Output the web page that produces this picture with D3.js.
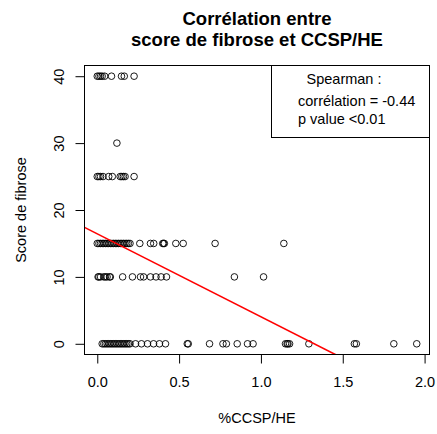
<!DOCTYPE html>
<html><head><meta charset="utf-8">
<script src="https://cdn.jsdelivr.net/npm/d3@7"></script>
<style>
body{margin:0;background:#fff}
text{font-family:"Liberation Sans",Arial,Helvetica,sans-serif;fill:#000}
</style>
</head><body>
<svg id="chart" width="437" height="434"></svg>
<script>
// ---- data ----
const titleLines = ["Corrélation entre", "score de fibrose et CCSP/HE"];
const xLabel = "%CCSP/HE";
const yLabel = "Score de fibrose";
const xTicks = [0, 0.5, 1, 1.5, 2];
const yTicks = [0, 10, 20, 30, 40];
const xDomain = [-0.078, 2.03];
const yDomain = [-1.6, 41.6];

const fibroseLevels = [40, 30, 25, 15, 10, 0];
const ccsp40 = [0.0, 0.01, 0.02, 0.03, 0.045, 0.087, 0.148, 0.165, 0.225];
const ccsp30 = [0.12];
const ccsp25 = [0.0, 0.01, 0.02, 0.035, 0.07, 0.092, 0.14, 0.15, 0.16, 0.17, 0.225];
const ccsp15 = [0.0, 0.01, 0.02, 0.03, 0.04, 0.05, 0.06, 0.07, 0.08, 0.09, 0.1, 0.11, 0.12,
                0.13, 0.14, 0.15, 0.16, 0.17, 0.18, 0.19, 0.2, 0.26, 0.325, 0.345, 0.4,
                0.405, 0.41, 0.48, 0.525, 0.72, 1.14];
const ccsp10 = [0.005, 0.01, 0.02, 0.04, 0.05, 0.06, 0.075, 0.08, 0.155, 0.215, 0.264,
                0.283, 0.325, 0.359, 0.39, 0.423, 0.838, 1.016];
const ccsp0 = [0.03, 0.04, 0.05, 0.06, 0.07, 0.08, 0.09, 0.1, 0.11, 0.12, 0.13, 0.14, 0.15,
               0.16, 0.17, 0.18, 0.19, 0.2, 0.234, 0.27, 0.307, 0.344, 0.38, 0.417, 0.55,
               0.556, 0.686, 0.768, 0.789, 0.855, 0.918, 0.952, 1.15, 1.16, 1.165, 1.175,
               1.293, 1.571, 1.583, 1.812, 1.952];
const ccspByLevel = [ccsp40, ccsp30, ccsp25, ccsp15, ccsp10, ccsp0];

const fitIntercept = 16.44;
const fitSlope = -12.4;

const legendTitle = "Spearman :";
const legendLines = ["corrélation = -0.44", "p value <0.01"];

// ---- layout ----
const L = 84.5, R = 429.5, T = 65.5, B = 354.5;
const svg = d3.select("#chart");

const x = d3.scaleLinear().domain(xDomain).range([L, R]);
const y = d3.scaleLinear().domain(yDomain).range([B, T]);

// clip
svg.append("defs").append("clipPath").attr("id", "clip")
  .append("rect").attr("x", L).attr("y", T).attr("width", R - L).attr("height", B - T);

// points
const points = [];
fibroseLevels.forEach((lvl, i) => ccspByLevel[i].forEach(v => points.push({x: v, y: lvl})));
svg.append("g").selectAll("circle").data(points).join("circle")
  .attr("cx", d => x(d.x)).attr("cy", d => y(d.y)).attr("r", 3.3)
  .attr("fill", "none").attr("stroke", "#000").attr("stroke-width", 0.9);

// regression line
svg.append("line").attr("clip-path", "url(#clip)")
  .attr("x1", x(xDomain[0])).attr("y1", y(fitIntercept + fitSlope * xDomain[0]))
  .attr("x2", x(xDomain[1])).attr("y2", y(fitIntercept + fitSlope * xDomain[1]))
  .attr("stroke", "#ff0000").attr("stroke-width", 1.6);

// axes
const xAxis = svg.append("g").attr("transform", `translate(0,${B})`)
  .call(d3.axisBottom(x).tickValues(xTicks).tickFormat(d3.format(".1f")).tickSize(9).tickPadding(13));
xAxis.select(".domain").remove();
xAxis.selectAll("line").attr("stroke", "#000");
xAxis.selectAll("text").attr("font-size", 14.5).attr("font-family", null);

const yAxis = svg.append("g").attr("transform", `translate(${L},0)`)
  .call(d3.axisLeft(y).tickValues(yTicks).tickSize(9));
yAxis.select(".domain").remove();
yAxis.selectAll("line").attr("stroke", "#000");
yAxis.selectAll("text")
  .attr("font-size", 14.5).attr("font-family", null)
  .attr("x", null).attr("dy", null)
  .attr("text-anchor", "middle")
  .attr("transform", "translate(-21,0) rotate(-90)");

// box
svg.append("rect").attr("x", L).attr("y", T).attr("width", R - L).attr("height", B - T)
  .attr("fill", "none").attr("stroke", "#000").attr("stroke-width", 1);

// legend
const lgX = 271.5, lgY = T, lgB = 137.5;
svg.append("rect").attr("x", lgX).attr("y", lgY).attr("width", R - lgX).attr("height", lgB - lgY)
  .attr("fill", "#fff").attr("stroke", "#000").attr("stroke-width", 1);
svg.append("text").attr("x", 344).attr("y", 83.5).attr("text-anchor", "middle")
  .attr("font-size", 14.5).text(legendTitle);
svg.selectAll(".lg").data(legendLines).join("text").attr("class", "lg")
  .attr("x", 298).attr("y", (d, i) => 106 + i * 18)
  .attr("font-size", 14.5).text(d => d);

// titles
svg.selectAll(".ttl").data(titleLines).join("text").attr("class", "ttl")
  .attr("x", (L + R) / 2).attr("y", (d, i) => 24.5 + i * 21.5)
  .attr("text-anchor", "middle").attr("font-size", 18.5).attr("font-weight", "bold")
  .text(d => d);

svg.append("text").attr("x", (L + R) / 2).attr("y", 423).attr("text-anchor", "middle")
  .attr("font-size", 14.5).text(xLabel);
svg.append("text").attr("transform", `translate(26,${(T + B) / 2}) rotate(-90)`)
  .attr("text-anchor", "middle").attr("font-size", 14.5).text(yLabel);
</script>
</body></html>
